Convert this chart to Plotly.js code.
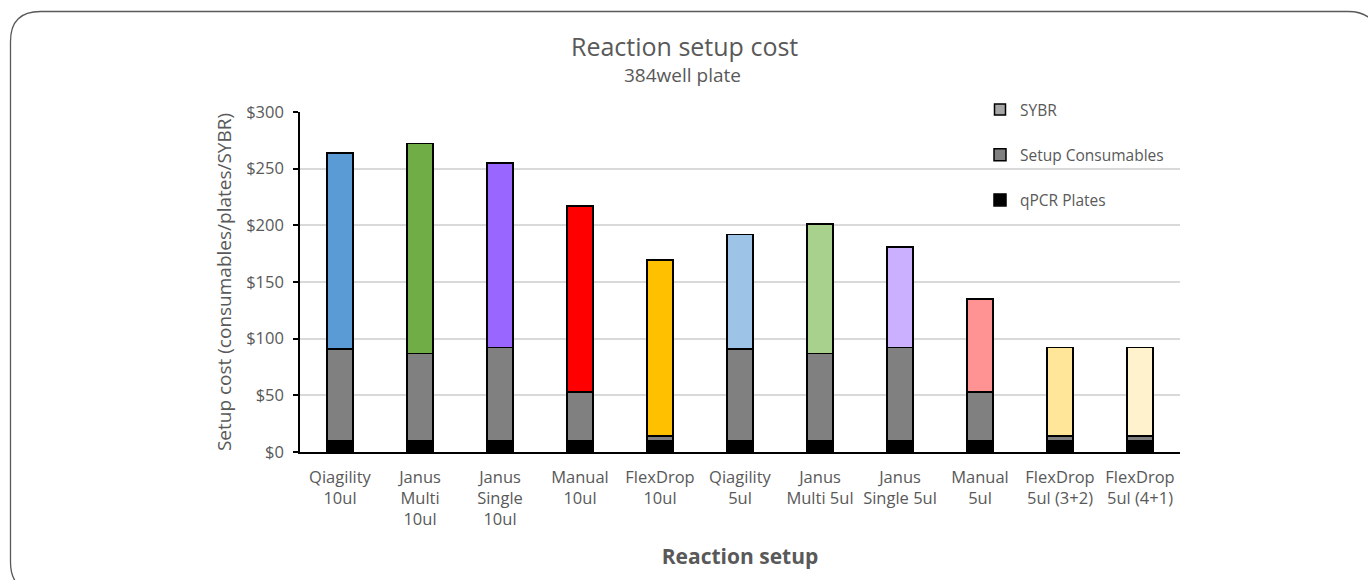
<!DOCTYPE html>
<html>
<head>
<meta charset="utf-8">
<script src="https://cdn.plot.ly/plotly-3.0.1.min.js"></script>
<style>
  html, body { margin: 0; padding: 0; background: #ffffff; }
  #chart { width: 1368px; height: 580px; }
</style>
</head>
<body>
<div id="chart"></div>
<script>
// ---- Data ----
var categories = [
  "Qiagility 10ul", "Janus Multi 10ul", "Janus Single 10ul", "Manual 10ul", "FlexDrop 10ul",
  "Qiagility 5ul", "Janus Multi 5ul", "Janus Single 5ul", "Manual 5ul",
  "FlexDrop 5ul (3+2)", "FlexDrop 5ul (4+1)"
];
var tickLabels = [
  "Qiagility<br>10ul", "Janus<br>Multi<br>10ul", "Janus<br>Single<br>10ul", "Manual<br>10ul", "FlexDrop<br>10ul",
  "Qiagility<br>5ul", "Janus<br>Multi 5ul", "Janus<br>Single 5ul", "Manual<br>5ul",
  "FlexDrop<br>5ul (3+2)", "FlexDrop<br>5ul (4+1)"
];
var qpcrPlates       = [10, 10, 10, 10, 10, 10, 10, 10, 10, 10, 10];
var setupConsumables = [81, 77, 82, 43, 4, 81, 77, 82, 43, 4, 4];
var sybr             = [173, 185, 163, 164, 155.5, 101, 114, 89, 82, 78, 78];
var sybrColors = [
  "#5B9BD5", "#70AD47", "#9966FF", "#FF0000", "#FFC000",
  "#9DC3E6", "#A9D18E", "#CBB0FF", "#FF9393", "#FFE699", "#FFF2CC"
];
var yTickVals   = [0, 50, 100, 150, 200, 250, 300];
var yTickLabels = ["$0", "$50", "$100", "$150", "$200", "$250", "$300"];

// ---- Layout geometry ----
var W = 1368, H = 580;
var M = {l: 300, r: 188, t: 112, b: 128};
var pw = W - M.l - M.r, ph = H - M.t - M.b;
function px(X) { return (X - M.l) / pw; }
function py(Y) { return (H - M.b - Y) / ph; }

var FONT = "Open Sans, Noto Sans, DejaVu Sans, sans-serif";
var TXT = "#595959";
var outline = {color: "#000000", width: 1.5};

var traces = [
  {
    type: "bar", name: "qPCR Plates", x: categories, y: qpcrPlates,
    marker: {color: "#000000", line: outline},
    legendgroup: "g3", legendrank: 3, hoverinfo: "x+y+name"
  },
  {
    type: "bar", name: "Setup Consumables", x: categories, y: setupConsumables,
    marker: {color: "#808080", line: outline},
    legendgroup: "g2", legendrank: 2, hoverinfo: "x+y+name"
  },
  {
    type: "bar", name: "SYBR", x: categories, y: sybr,
    marker: {color: sybrColors, line: outline},
    legendgroup: "g1", legendrank: 1, showlegend: false, hoverinfo: "x+y+name"
  },
  {
    type: "scatter", mode: "markers", name: "SYBR", x: [null], y: [null],
    marker: {symbol: "square", size: 11, color: "#A6A6A6", line: {color: "#000000", width: 1.5}},
    legendgroup: "g1", legendrank: 1, hoverinfo: "skip"
  }
];

// rounded frame
var fx0 = 10.5, fy0 = 11.5, fx1 = 1378, fy1 = 592, rr = 30;
function P(X, Y) { return px(X).toFixed(5) + "," + py(Y).toFixed(5); }
var framePath = "M" + P(fx0 + rr, fy0) +
  " L" + P(fx1 - rr, fy0) +
  " Q" + P(fx1, fy0) + " " + P(fx1, fy0 + rr) +
  " L" + P(fx1, fy1 - rr) +
  " Q" + P(fx1, fy1) + " " + P(fx1 - rr, fy1) +
  " L" + P(fx0 + rr, fy1) +
  " Q" + P(fx0, fy1) + " " + P(fx0, fy1 - rr) +
  " L" + P(fx0, fy0 + rr) +
  " Q" + P(fx0, fy0) + " " + P(fx0 + rr, fy0) + " Z";

var layout = {
  width: W, height: H,
  margin: M,
  paper_bgcolor: "#ffffff", plot_bgcolor: "#ffffff",
  font: {family: FONT, color: TXT, size: 16},
  barmode: "stack",
  bargap: 0.675,
  showlegend: true,
  legend: {
    x: px(980), y: py(93), xanchor: "left", yanchor: "top",
    traceorder: "grouped", tracegroupgap: 22,
    font: {family: FONT, size: 15.5, color: TXT},
    bgcolor: "rgba(0,0,0,0)", itemclick: false, itemdoubleclick: false
  },
  xaxis: {
    type: "category",
    tickvals: categories, ticktext: tickLabels,
    tickfont: {family: FONT, size: 16.5, color: TXT},
    showline: true, linecolor: "#000000", linewidth: 1.5,
    ticks: "", showgrid: false, zeroline: false,
    ticklabelstandoff: 9,
    title: {text: "<b>Reaction setup</b>", font: {family: FONT, size: 21, color: TXT}, standoff: 20}
  },
  yaxis: {
    range: [0, 300], tickvals: yTickVals, ticktext: yTickLabels,
    tickfont: {family: FONT, size: 16.5, color: TXT},
    showline: true, linecolor: "#000000", linewidth: 1.5,
    ticks: "outside", ticklen: 5, tickcolor: "#000000", tickwidth: 1.5,
    showgrid: true, gridcolor: "#D9D9D9", gridwidth: 1.5,
    zeroline: false, ticklabelstandoff: 6,
    title: {text: "Setup cost (consumables/plates/SYBR)", font: {family: FONT, size: 19, color: TXT}, standoff: 10}
  },
  annotations: [
    {text: "Reaction setup cost", xref: "paper", yref: "paper", x: px(684), y: py(46),
     xanchor: "center", yanchor: "middle", showarrow: false,
     font: {family: FONT, size: 25, color: TXT}},
    {text: "384well plate", xref: "paper", yref: "paper", x: px(682), y: py(75),
     xanchor: "center", yanchor: "middle", showarrow: false,
     font: {family: FONT, size: 19, color: TXT}}
  ],
  shapes: [
    {type: "path", xref: "paper", yref: "paper", path: framePath,
     line: {color: "#595959", width: 1.3}, fillcolor: "rgba(0,0,0,0)", layer: "above"}
  ]
};

Plotly.newPlot("chart", traces, layout, {displayModeBar: false, staticPlot: false});
</script>
</body>
</html>
